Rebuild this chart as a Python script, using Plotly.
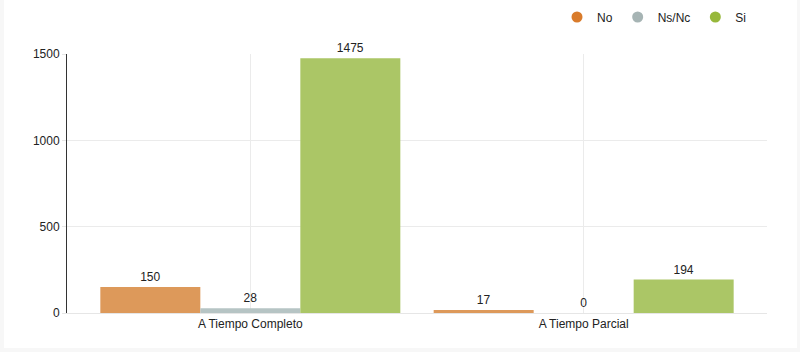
import plotly.graph_objects as go

categories = ["A Tiempo Completo", "A Tiempo Parcial"]
series_names = ["No", "Ns/Nc", "Si"]
values_no = [150, 17]
values_nsnc = [28, 0]
values_si = [1475, 194]
series_values = [values_no, values_nsnc, values_si]

bar_colors = ["#dd995a", "#b6c4c4", "#abc666"]
marker_colors = ["#d97b2b", "#a6b4b4", "#97b83b"]

fig = go.Figure()
for name, vals, bc in zip(series_names, series_values, bar_colors):
    fig.add_trace(go.Bar(
        x=categories, y=vals, name=name,
        marker=dict(color=bc, line=dict(width=0)),
        text=[str(v) for v in vals], textposition="outside",
        textfont=dict(family="Liberation Sans, Arial, sans-serif", size=12, color="#222"),
        cliponaxis=False, showlegend=False, legendgroup=name,
    ))
for name, mc in zip(series_names, marker_colors):
    fig.add_trace(go.Scatter(
        x=[None], y=[None], mode="markers", name=name, legendgroup=name,
        marker=dict(symbol="circle", size=11, color=mc),
    ))

L, R, T, B = 67, 33, 54, 39
W, H = 800, 352
pw, ph = W - L - R, H - T - B

fig.update_layout(
    width=W, height=H,
    margin=dict(l=L, r=R, t=T, b=B, pad=0, autoexpand=False),
    paper_bgcolor="#f7f7f7", plot_bgcolor="white",
    barmode="group", bargap=0.1, bargroupgap=0,
    font=dict(family="Liberation Sans, Arial, sans-serif", size=12, color="#222"),
    legend=dict(orientation="h", xref="container", yref="container",
                x=752 / W, xanchor="right",
                y=1 - 17 / H, yanchor="middle",
                font=dict(size=12, color="#222"), itemwidth=30,
                bgcolor="rgba(0,0,0,0)", traceorder="normal"),
    shapes=[dict(type="rect", xref="paper", yref="paper", layer="below",
                 x0=(4 - L) / pw, x1=(797 - L) / pw,
                 y0=-(348 - (T + ph)) / ph, y1=1 + T / ph + 0.01,
                 fillcolor="white", line=dict(width=0))],
    xaxis=dict(range=[-0.55, 1.55], showgrid=True, gridcolor="#ebebeb",
               showline=True, linecolor="#e6e6e6", linewidth=1,
               ticks="", tickfont=dict(size=12, color="#222"), fixedrange=True),
    yaxis=dict(range=[0, 1500], tickvals=[0, 500, 1000, 1500],
               showgrid=True, gridcolor="#ebebeb", zeroline=False,
               showline=True, linecolor="#333", linewidth=1,
               ticks="outside", ticklen=4, tickcolor="#e6e6e6",
               tickfont=dict(size=12, color="#222"), fixedrange=True),
)

fig.write_html("out.html", config={"displayModeBar": False})
